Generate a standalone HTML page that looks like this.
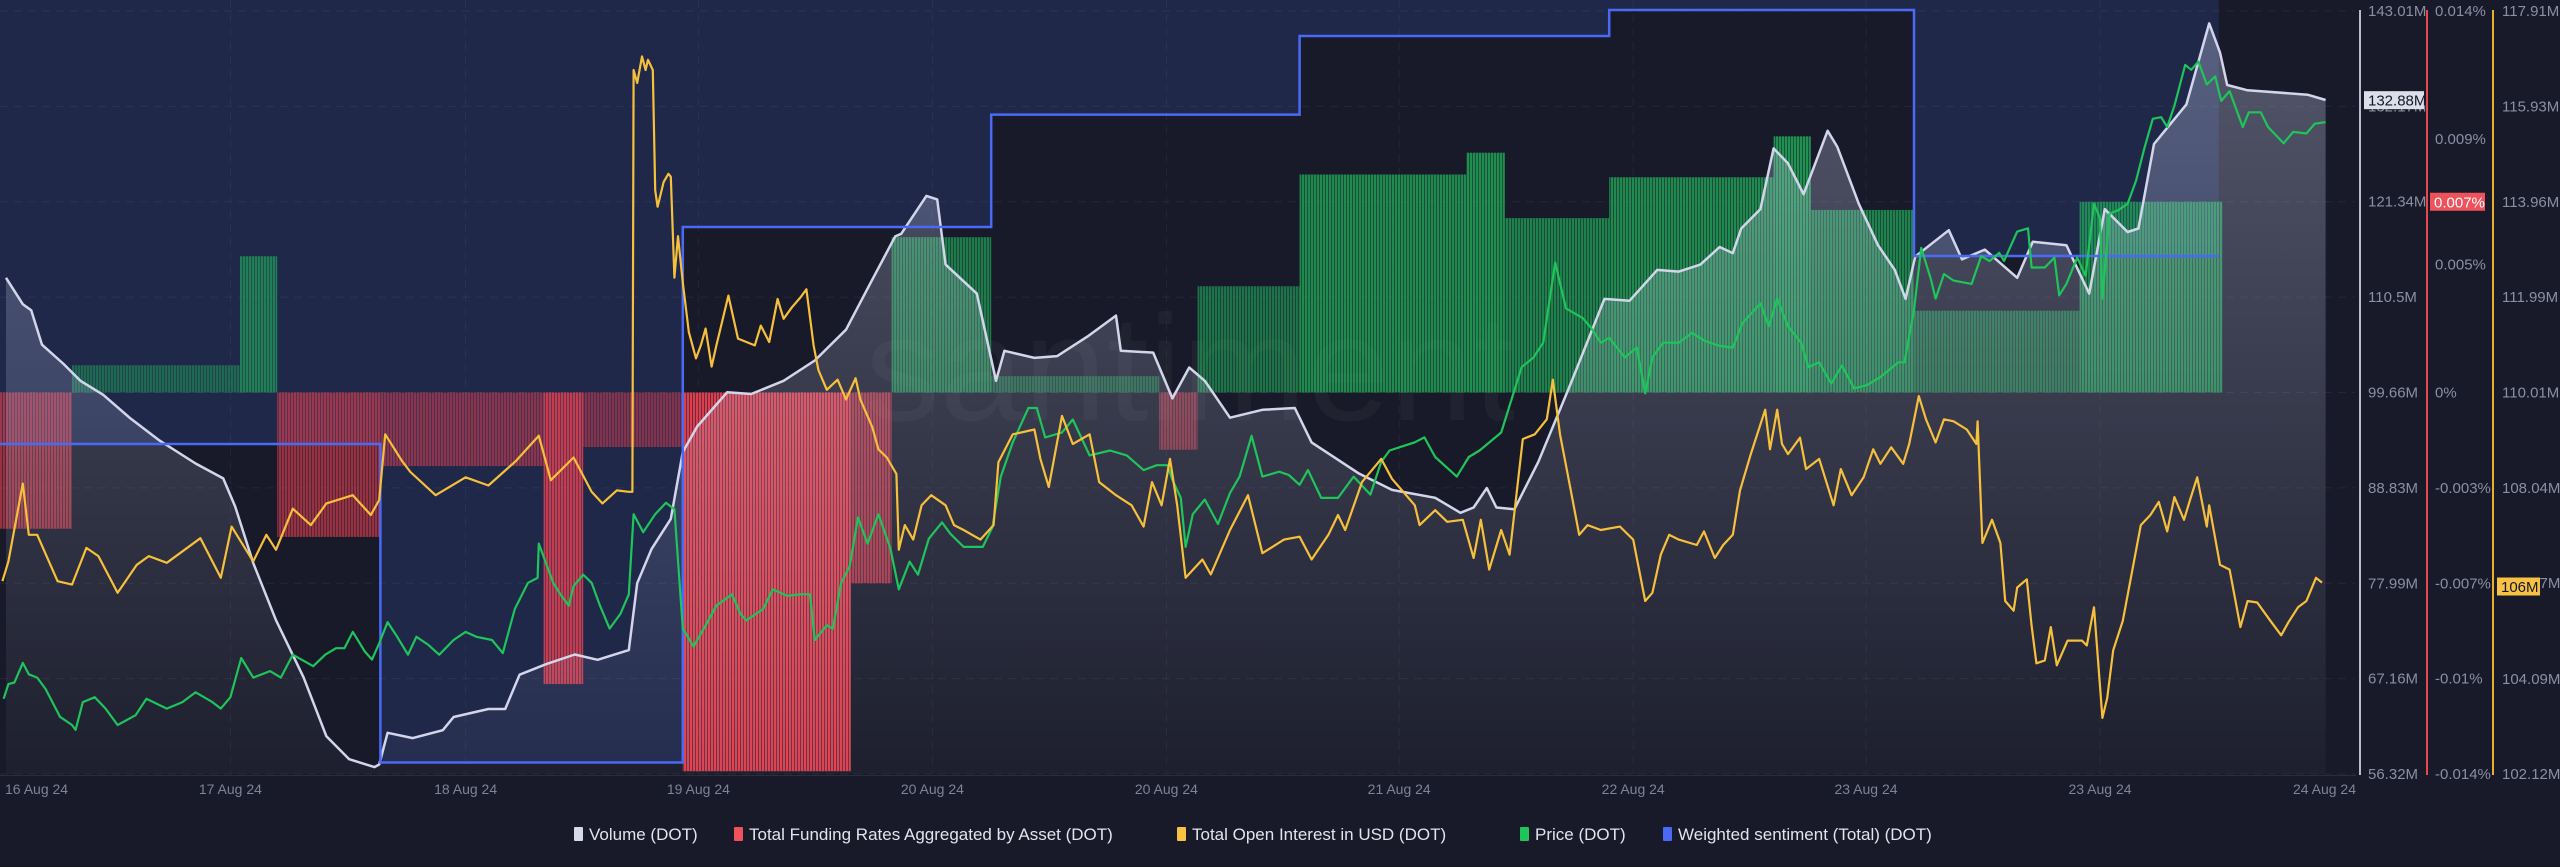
<!DOCTYPE html>
<html><head><meta charset="utf-8"><style>
html,body{margin:0;padding:0;background:#181a29;}
svg{display:block;font-family:"Liberation Sans",sans-serif;}
</style></head><body>
<svg id="chart" width="2560" height="867" viewBox="0 0 2560 867" xmlns="http://www.w3.org/2000/svg">
<defs>
<linearGradient id="volGrad" gradientUnits="userSpaceOnUse" x1="0" y1="0" x2="0" y2="774">
<stop offset="0" stop-color="#cdd2f0" stop-opacity="0.34"/>
<stop offset="1" stop-color="#cdd2f0" stop-opacity="0.03"/>
</linearGradient>
<pattern id="stripes" width="3" height="10" patternUnits="userSpaceOnUse">
<rect x="0" y="0" width="2" height="10" fill="#fff"/><rect x="2" y="0" width="1" height="10" fill="#777"/>
</pattern>
<mask id="stripeMask" maskUnits="userSpaceOnUse" x="0" y="0" width="2560" height="867"><rect x="0" y="0" width="2560" height="867" fill="url(#stripes)"/></mask>
<clipPath id="plotClip"><rect x="0" y="0" width="2328" height="776"/></clipPath>
</defs>
<rect x="0" y="0" width="2560" height="867" fill="#181a29"/>
<g id="sentFillG" clip-path="url(#plotClip)"></g>
<text x="1190" y="420" font-size="150" fill="#ffffff" fill-opacity="0.035" text-anchor="middle">santiment</text>
<g id="gridG"></g>
<g id="fundG" mask="url(#stripeMask)" clip-path="url(#plotClip)"></g>
<g id="seriesG" clip-path="url(#plotClip)"></g>
<g id="axesG"></g>
<g id="legendG"></g>
</svg>
<script>
// ---- data ----
const volT = [0.5,1.9,2.6,3.5,5.3,6.7,8.6,10.8,13.3,16.3,18.6,19.6,21.1,23.0,25.3,27.2,29.1,31.2,31.6,32.3,34.4,36.9,37.8,40.7,42.1,43.3,45.5,47.9,49.8,52.4,53.1,54.3,55.9,56.9,58.1,60.6,62.6,65.3,67.9,70.5,72.5,74.6,75.1,77.2,78.1,78.8,81.4,83.0,83.7,86.2,88.1,90.6,93.0,93.4,96.1,97.7,99.1,100.4,102.5,105.2,107.9,109.3,113.2,116.0,119.6,121.7,122.8,123.9,124.7,126.2,128.2,130.9,133.7,135.8,138.1,139.9,141.7,143.3,144.4,145.1,146.7,147.8,149.0,150.3,152.3,153.1,154.9,156.5,157.9,158.8,159.6,162.4,163.5,165.4,168.1,169.4,172.2,174.1,175.4,177.3,178.2,179.5,182.2,184.1,185.0,185.6,187.3,192.3,193.8];
const volV = [112.7,109.7,109.0,105.1,102.9,101.0,99.4,96.8,94.2,91.6,89.9,86.7,80.3,73.8,67.3,60.6,58.0,57.1,57.4,61.0,60.4,61.3,62.8,63.7,63.7,67.6,68.8,69.9,69.3,70.4,78.0,81.9,85.3,92.9,95.8,99.7,99.5,101.0,103.3,106.8,112.0,117.4,117.7,122.0,121.6,114.2,110.9,101.0,104.4,103.6,103.8,106.0,108.4,104.4,104.2,99.0,102.5,101.0,96.8,97.7,97.9,94.0,90.5,88.6,87.7,86.0,86.6,88.8,86.6,86.4,91.8,100.7,110.3,110.1,113.6,113.4,114.2,116.2,115.5,118.3,120.5,127.4,125.7,122.2,129.4,127.6,121.1,116.4,113.6,110.3,115.1,118.1,114.8,115.9,112.7,116.8,116.4,110.9,120.5,117.9,118.3,127.9,132.4,141.6,138.3,134.6,134.0,133.5,132.9];
const oiData = [[0.2,106.11],[0.7,106.52],[1.9,108.13],[2.4,107.07],[3.1,107.07],[4.8,106.11],[6.0,106.04],[7.2,106.80],[8.2,106.63],[9.8,105.87],[11.4,106.45],[12.4,106.63],[13.9,106.49],[16.7,107.00],[18.4,106.18],[19.3,107.24],[21.1,106.52],[22.2,107.07],[23.0,106.76],[24.4,107.61],[25.9,107.27],[27.2,107.72],[29.4,107.89],[30.9,107.48],[31.6,107.79],[32.1,109.15],[33.5,108.60],[34.2,108.37],[36.3,107.89],[38.8,108.26],[40.7,108.09],[43.0,108.60],[44.9,109.12],[45.9,108.20],[47.8,108.67],[49.3,107.96],[50.2,107.72],[51.4,107.99],[52.4,107.96],[52.7,107.96],[52.8,116.69],[53.1,116.42],[53.5,116.97],[53.8,116.69],[54.0,116.90],[54.4,116.69],[54.6,114.20],[54.8,113.86],[55.3,114.37],[55.7,114.54],[55.9,114.48],[56.2,112.39],[56.5,113.25],[56.9,112.29],[57.4,111.27],[58.0,110.72],[58.4,110.99],[58.8,111.34],[59.3,110.55],[59.7,110.99],[60.7,112.02],[61.5,111.13],[62.2,111.06],[62.9,110.99],[63.4,111.40],[64.1,111.06],[64.8,111.95],[65.3,111.54],[66.0,111.78],[66.7,111.98],[67.2,112.15],[67.8,110.99],[68.2,110.48],[68.9,110.07],[69.8,110.28],[70.5,109.87],[71.3,110.31],[71.7,109.87],[72.7,109.29],[73.2,108.84],[73.9,108.67],[74.7,108.33],[74.9,106.76],[75.4,107.27],[76.1,106.97],[76.8,107.68],[77.6,107.89],[78.8,107.68],[79.5,107.27],[80.3,107.17],[81.7,106.97],[82.8,107.27],[83.2,108.57],[84.4,109.15],[86.2,109.25],[86.7,108.64],[87.4,108.06],[88.5,109.53],[89.4,108.95],[90.8,109.15],[91.6,108.16],[93.0,107.89],[94.3,107.68],[95.3,107.24],[96.0,108.16],[96.8,107.68],[97.5,108.64],[98.1,107.68],[98.8,106.18],[100.2,106.56],[100.9,106.25],[102.5,107.17],[104.0,107.89],[105.2,106.69],[107.0,106.97],[108.3,107.03],[109.3,106.56],[110.7,107.07],[111.5,107.48],[112.1,107.17],[113.5,108.16],[115.1,108.64],[116.0,108.23],[117.9,107.68],[118.3,107.27],[119.6,107.58],[120.6,107.34],[121.9,107.38],[122.8,106.59],[123.4,107.38],[124.1,106.35],[125.1,107.17],[125.8,106.66],[126.9,109.05],[127.9,109.15],[128.9,109.46],[129.4,110.28],[130.0,109.15],[130.9,107.99],[131.6,107.07],[132.3,107.27],[133.4,107.17],[135.0,107.24],[136.1,106.97],[137.1,105.70],[137.7,105.87],[138.4,106.66],[139.1,107.07],[139.9,106.97],[141.4,106.86],[142.0,107.14],[142.9,106.59],[143.6,106.86],[144.4,107.07],[145.0,107.99],[145.9,108.74],[147.1,109.66],[147.5,108.84],[148.1,109.66],[148.5,108.95],[149.0,108.74],[150.0,109.08],[150.5,108.43],[151.6,108.64],[152.8,107.68],[153.4,108.43],[154.3,107.89],[155.3,108.26],[156.1,108.84],[156.7,108.54],[157.6,108.88],[158.6,108.54],[159.1,108.95],[159.9,109.94],[160.5,109.46],[161.3,108.98],[162.0,109.46],[162.8,109.42],[163.9,109.25],[164.7,108.95],[164.8,109.42],[165.2,106.90],[166.0,107.38],[166.7,106.90],[167.1,105.70],[167.8,105.50],[168.1,105.98],[168.9,106.15],[169.3,105.19],[169.7,104.41],[170.4,104.47],[170.9,105.16],[171.4,104.37],[172.3,104.88],[173.5,104.88],[173.9,104.78],[174.5,105.57],[175.2,103.28],[175.6,103.69],[176.1,104.68],[176.9,105.29],[178.4,107.27],[179.2,107.48],[179.9,107.75],[180.6,107.14],[181.2,107.85],[182.0,107.38],[182.5,107.79],[183.1,108.26],[183.9,107.24],[184.1,107.68],[185.0,106.45],[185.8,106.35],[186.7,105.16],[187.3,105.70],[188.1,105.67],[189.2,105.29],[190.1,104.99],[190.7,105.26],[191.5,105.57],[192.2,105.70],[193.0,106.18],[193.5,106.08]];
const priceData = [[0.3,4.092],[0.7,4.110],[1.2,4.112],[1.9,4.136],[2.4,4.122],[3.1,4.118],[3.8,4.104],[5.0,4.070],[6.0,4.060],[6.3,4.054],[6.9,4.088],[7.9,4.094],[8.8,4.080],[9.8,4.060],[11.3,4.072],[12.2,4.092],[13.9,4.080],[15.2,4.088],[16.3,4.100],[17.7,4.088],[18.4,4.080],[19.2,4.094],[20.1,4.142],[21.1,4.118],[22.5,4.126],[23.4,4.118],[24.4,4.146],[26.1,4.132],[27.1,4.146],[28.0,4.154],[28.7,4.154],[29.4,4.174],[30.4,4.150],[31.0,4.140],[31.6,4.160],[32.3,4.186],[33.1,4.168],[34.0,4.146],[34.7,4.168],[35.7,4.158],[36.6,4.146],[37.8,4.164],[38.8,4.174],[39.7,4.168],[41.0,4.164],[41.9,4.148],[42.9,4.202],[44.0,4.234],[44.8,4.240],[44.9,4.282],[45.5,4.258],[46.1,4.234],[46.7,4.220],[47.4,4.206],[47.8,4.230],[48.6,4.244],[49.3,4.234],[50.0,4.206],[50.8,4.178],[51.7,4.196],[52.4,4.220],[52.8,4.318],[53.6,4.296],[54.6,4.318],[55.5,4.332],[56.2,4.324],[56.9,4.178],[57.8,4.156],[58.8,4.182],[59.7,4.206],[61.0,4.220],[61.7,4.196],[62.2,4.188],[63.6,4.202],[64.4,4.226],[65.6,4.218],[66.7,4.220],[67.5,4.220],[67.9,4.164],[68.9,4.182],[69.4,4.178],[70.1,4.234],[70.8,4.254],[71.5,4.314],[72.3,4.282],[73.2,4.318],[74.2,4.276],[74.9,4.226],[75.8,4.260],[76.5,4.244],[77.4,4.288],[78.5,4.308],[79.2,4.294],[80.3,4.278],[81.9,4.278],[82.7,4.302],[83.4,4.364],[84.4,4.406],[85.7,4.448],[86.4,4.448],[87.1,4.412],[88.5,4.418],[89.4,4.434],[90.8,4.390],[92.5,4.396],[93.9,4.390],[95.3,4.372],[96.4,4.378],[97.3,4.378],[97.7,4.360],[98.4,4.338],[98.8,4.278],[99.4,4.318],[100.4,4.336],[101.5,4.306],[102.5,4.344],[103.3,4.364],[104.3,4.414],[105.2,4.364],[106.6,4.370],[107.4,4.366],[108.3,4.354],[109.0,4.372],[110.1,4.338],[111.5,4.338],[112.8,4.364],[114.2,4.342],[115.1,4.382],[115.8,4.396],[117.9,4.406],[118.7,4.412],[119.6,4.388],[121.4,4.364],[122.4,4.388],[123.3,4.396],[125.1,4.418],[126.8,4.498],[127.8,4.510],[128.6,4.528],[129.6,4.626],[130.5,4.570],[131.9,4.558],[132.6,4.546],[133.4,4.528],[134.1,4.534],[135.4,4.510],[136.4,4.522],[137.1,4.466],[137.7,4.510],[138.6,4.528],[139.9,4.528],[141.0,4.540],[142.1,4.530],[143.3,4.524],[144.4,4.522],[145.2,4.552],[146.7,4.576],[147.4,4.548],[148.1,4.582],[149.0,4.548],[150.1,4.528],[150.7,4.498],[151.6,4.504],[152.6,4.478],[153.5,4.500],[154.5,4.472],[155.6,4.476],[156.7,4.486],[158.2,4.504],[158.7,4.504],[159.5,4.568],[160.1,4.644],[160.9,4.606],[161.3,4.582],[162.0,4.612],[162.8,4.604],[164.3,4.600],[165.1,4.634],[165.8,4.628],[166.6,4.638],[167.0,4.628],[168.1,4.664],[169.0,4.668],[169.3,4.620],[170.4,4.620],[171.2,4.632],[171.6,4.586],[172.2,4.600],[173.1,4.632],[173.8,4.610],[174.5,4.698],[175.0,4.680],[175.2,4.582],[175.8,4.686],[176.5,4.690],[177.3,4.698],[178.0,4.726],[178.7,4.766],[179.4,4.802],[180.1,4.804],[180.6,4.792],[181.2,4.818],[182.1,4.868],[182.6,4.862],[183.2,4.872],[183.9,4.844],[184.6,4.854],[185.1,4.824],[185.8,4.836],[186.9,4.792],[187.4,4.810],[188.4,4.810],[189.0,4.792],[190.3,4.772],[191.1,4.786],[192.2,4.784],[192.9,4.796],[193.8,4.798]];
const fundStart = [0,6.0,20.0,23.1,31.7,45.3,48.6,56.9,70.9,74.3,82.6,96.6,99.8,108.3,122.2,125.4,134.1,147.8,150.9,159.5,173.3];
const fundEndLast = 185.2;
const fundVal = [-0.0050,0.0010,0.0050,-0.0053,-0.0027,-0.0107,-0.0020,-0.0139,-0.0070,0.0057,0.0006,-0.0021,0.0039,0.0080,0.0088,0.0064,0.0079,0.0094,0.0067,0.0030,0.0070];
const sentT = [0,31.7,56.9,82.6,108.3,134.1,159.5];
const sentV = [43.2,1.5,71.6,86.3,96.6,100,67.8];
const sentEnd = 184.9;
const volTicks = [56.32,67.16,77.99,88.83,99.66,110.5,121.34,132.17,143.01];
const volTickLabels = ['56.32M','67.16M','77.99M','88.83M','99.66M','110.5M','121.34M','132.17M','143.01M'];
const fundTicks = [-0.014,-0.0105,-0.007,-0.0035,0,0.0047,0.0093,0.014];
const fundTickLabels = ['-0.014%','-0.01%','-0.007%','-0.003%','0%','0.005%','0.009%','0.014%'];
const oiTicks = [102.12,104.09,106.07,108.04,110.01,111.99,113.96,115.93,117.91];
const oiTickLabels = ['102.12M','104.09M','106.07M','108.04M','110.01M','111.99M','113.96M','115.93M','117.91M'];
const dateTicks = [19.2,38.8,58.2,77.7,97.2,116.6,136.1,155.5,175.0];
const dateLabels = ['17 Aug 24','18 Aug 24','19 Aug 24','20 Aug 24','20 Aug 24','21 Aug 24','22 Aug 24','23 Aug 24','23 Aug 24'];
const lastVol = 132.88, lastFund = 0.007, lastOI = 106;

// ---- scales ----
const X = h => h * 12;
const yVol = v => 774 - (v - 56.32) / (143.01 - 56.32) * 763;
const yOI = v => 774 - (v - 102.12) / (117.91 - 102.12) * 763;
const yPrice = p => 774 - (p - 4.00) / 0.934 * 763;
const yFund = v => 392.5 - v / 0.014 * 381.5;
const ySent = s => 774 - s / 100 * 764;

const NS = 'http://www.w3.org/2000/svg';
function mk(tag, attrs, parent){ const e = document.createElementNS(NS, tag); for (const k in attrs) e.setAttribute(k, attrs[k]); parent.appendChild(e); return e; }
const sentFillG = document.getElementById('sentFillG');
const gridG = document.getElementById('gridG');
const fundG = document.getElementById('fundG');
const seriesG = document.getElementById('seriesG');
const axesG = document.getElementById('axesG');
const legendG = document.getElementById('legendG');

// sentiment step path
let sp = 'M' + X(sentT[0]) + ',' + ySent(sentV[0]);
for (let i = 1; i < sentT.length; i++) { sp += ' H' + X(sentT[i]) + ' V' + ySent(sentV[i]); }
sp += ' H' + X(sentEnd);
const sFill = mk('path', {d: sp + ' V0 H' + X(sentT[0]) + ' Z', fill: '#1f2849'}, sentFillG);



// grid
volTicks.forEach((v, i) => {
  const g = mk('line', {x1: 0, x2: 2355, y1: yVol(v), y2: yVol(v), stroke: '#ffffff', 'stroke-opacity': 0.06, 'stroke-dasharray': '8 6'}, gridG);
  
  
});
dateTicks.forEach(t => {
  const g = mk('line', {x1: X(t), x2: X(t), y1: 0, y2: 774, stroke: '#ffffff', 'stroke-opacity': 0.05, 'stroke-dasharray': '8 6'}, gridG);
  
  
});

// funding bars
fundVal.forEach((v, i) => {
  const t0 = fundStart[i], t1 = (i + 1 < fundStart.length) ? fundStart[i + 1] : fundEndLast;
  const y0 = yFund(0), y1 = yFund(v);
  const a = 0.42 + Math.abs(v) / 0.014 * 0.5;
  const r = mk('rect', {x: X(t0), width: X(t1) - X(t0), y: Math.min(y0, y1), height: Math.abs(y1 - y0), fill: v >= 0 ? '#22b95e' : '#ec4252', 'fill-opacity': a}, fundG);
  
  
});

// volume area + line
let vp = '';
volT.forEach((t, i) => { vp += (i ? ' L' : 'M') + X(t).toFixed(1) + ',' + yVol(volV[i]).toFixed(1); });
const vArea = mk('path', {d: vp + ' L' + X(volT[volT.length - 1]) + ',774 L' + X(volT[0]) + ',774 Z', fill: 'url(#volGrad)'}, seriesG);


const vLine = mk('path', {d: vp, fill: 'none', stroke: '#d3d6ea', 'stroke-width': 2.5, 'stroke-linejoin': 'round'}, seriesG);



// sentiment line
const sLine = mk('path', {d: sp, fill: 'none', stroke: '#4a6af5', 'stroke-width': 2.5}, seriesG);



// price line
let pp = '';
priceData.forEach((d, i) => { pp += (i ? ' L' : 'M') + X(d[0]).toFixed(1) + ',' + yPrice(d[1]).toFixed(1); });
const pLine = mk('path', {d: pp, fill: 'none', stroke: '#1fc45a', 'stroke-width': 2.2, 'stroke-linejoin': 'round'}, seriesG);



// OI line
let op = '';
oiData.forEach((d, i) => { op += (i ? ' L' : 'M') + X(d[0]).toFixed(1) + ',' + yOI(d[1]).toFixed(1); });
const oLine = mk('path', {d: op, fill: 'none', stroke: '#f7c03c', 'stroke-width': 2.2, 'stroke-linejoin': 'round'}, seriesG);



// axes
const bl = mk('line', {x1: 0, x2: 2356, y1: 775.5, y2: 775.5, stroke: '#2a2d40', 'stroke-width': 1}, axesG);


const axV = mk('line', {x1: 2360, x2: 2360, y1: 10, y2: 775, stroke: '#b7bbcc', 'stroke-width': 2}, axesG);


const axF = mk('line', {x1: 2427, x2: 2427, y1: 10, y2: 775, stroke: '#e5484d', 'stroke-width': 2}, axesG);


const axO = mk('line', {x1: 2493, x2: 2493, y1: 10, y2: 775, stroke: '#e5b032', 'stroke-width': 2}, axesG);



const lblStyle = {fill: '#8a8fa4', 'font-size': 15};
volTicks.forEach((v, i) => {
  const t = mk('text', Object.assign({x: 2368, y: yVol(v) + 5}, lblStyle), axesG);
  t.textContent = volTickLabels[i];
  
  
});
fundTicks.forEach((v, i) => {
  const t = mk('text', Object.assign({x: 2435, y: yFund(v) + 5}, lblStyle), axesG);
  t.textContent = fundTickLabels[i];
  
  
});
oiTicks.forEach((v, i) => {
  const t = mk('text', Object.assign({x: 2502, y: yOI(v) + 5}, lblStyle), axesG);
  t.textContent = oiTickLabels[i];
  
  
});
const first = mk('text', {x: 5, y: 794, fill: '#7d8398', 'font-size': 14}, axesG);
first.textContent = '16 Aug 24';


dateTicks.forEach((t, i) => {
  const e = mk('text', {x: X(t), y: 794, fill: '#7d8398', 'font-size': 14, 'text-anchor': 'middle'}, axesG);
  e.textContent = dateLabels[i];
  
  
});
const lastLbl = mk('text', {x: 2356, y: 794, fill: '#7d8398', 'font-size': 14, 'text-anchor': 'end'}, axesG);
lastLbl.textContent = '24 Aug 24';



// value badges
function badge(x, w, yc, bg, fg, txt, name){
  const r = mk('rect', {x: x, y: yc - 9, width: w, height: 18, fill: bg}, axesG);
  
  
  const t = mk('text', {x: x + 4, y: yc + 5.5, fill: fg, 'font-size': 15}, axesG);
  t.textContent = txt;
  
  
}
badge(2364, 60, yVol(lastVol), '#dcdfea', '#15182a', lastVol.toFixed(2) + 'M', 'volume-last-value');
badge(2430, 55, yFund(lastFund), '#f0525c', '#ffffff', lastFund.toFixed(3) + '%', 'funding-last-value');
badge(2497, 43, yOI(lastOI), '#f7c242', '#15182a', lastOI + 'M', 'open-interest-last-value');

// legend
const legItems = [['#d6d9e6','Volume (DOT)'],['#f0525c','Total Funding Rates Aggregated by Asset (DOT)'],['#f7c242','Total Open Interest in USD (DOT)'],['#1fc45a','Price (DOT)'],['#4a6af5','Weighted sentiment (Total) (DOT)']];
let lx = 574;
const widths = [126, 409, 309, 109, 302];
legItems.forEach((it, i) => {
  const sq = mk('rect', {x: lx, y: 827, width: 9, height: 14, rx: 1, fill: it[0]}, legendG);
  
  
  const t = mk('text', {x: lx + 15, y: 840, fill: '#e2e4ec', 'font-size': 17}, legendG);
  t.textContent = it[1];
  
  
  lx += widths[i] + 34;
});
</script>
</body></html>
